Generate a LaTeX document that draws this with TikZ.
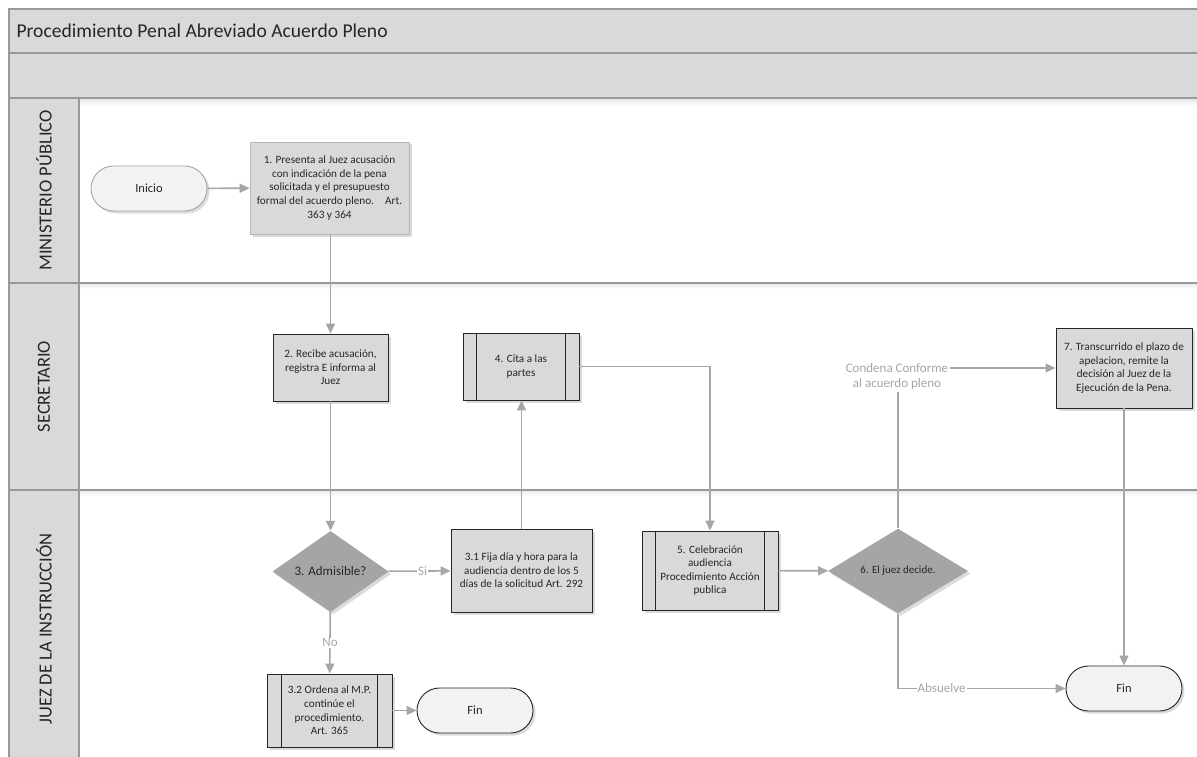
\documentclass[tikz,border=0pt]{standalone}
\usepackage{fontspec}
\setmainfont{Carlito}
\usetikzlibrary{arrows.meta,shapes.geometric,shadows}

\definecolor{band}{HTML}{D9D9D9}
\definecolor{rulegray}{HTML}{999999}
\definecolor{linkgray}{HTML}{A6A6A6}
\definecolor{ink}{HTML}{262626}
\definecolor{termfill}{HTML}{F2F2F2}
\definecolor{decfill}{HTML}{A5A5A5}

\tikzset{
  boxtext/.style={font=\fontsize{11.2}{13.6}\selectfont, text=ink, align=center},
  softshadow/.style={drop shadow={shadow xshift=2.5pt, shadow yshift=-2.5pt, opacity=0.14, fill=black}},
  procbox/.style={boxtext, draw=ink, line width=0.9pt, fill=band, inner sep=0pt, softshadow},
  lightbox/.style={boxtext, draw=linkgray!80, line width=0.7pt, fill=band, inner sep=0pt, softshadow},
  terminal/.style={font=\fontsize{12.5}{14}\selectfont, text=ink, fill=termfill, line width=0.9pt,
    rounded corners=22.5pt, minimum width=116pt, minimum height=45pt, inner sep=0pt, softshadow},
  decision/.style={diamond, fill=decfill, inner sep=0pt, text=ink, align=center, softshadow},
  flow/.style={draw=linkgray, line width=1.6pt, -{Triangle[length=10pt,width=9pt]}},
  flowlabel/.style={font=\fontsize{13}{15}\selectfont, text=linkgray, fill=white, inner sep=1pt, align=center},
  lanetitle/.style={rotate=90, font=\fontsize{18.5}{20}\selectfont, text=ink},
}

\begin{document}
\begin{tikzpicture}[x=1pt, y=-1pt]
\path[use as bounding box, fill=white] (0,0) rectangle (1197,757);

% pool header bands
\fill[band] (9,9) rectangle (1197,98);
% lane header column
\fill[band] (9,98) rectangle (79,757);
% faint shading under the header and lane separators
\shade[top color=black!9, bottom color=white] (79,99) rectangle (1197,106);
\shade[top color=black!7, bottom color=white] (79,284) rectangle (1197,289);
\shade[top color=black!7, bottom color=white] (79,491) rectangle (1197,496);

\draw[rulegray, line width=1.5pt] (1197,9) -- (9,9) -- (9,757);
\draw[rulegray, line width=1.5pt] (9,53) -- (1197,53);
\draw[rulegray, line width=1.5pt] (9,98) -- (1197,98);
\draw[rulegray, line width=1.2pt] (79,98) -- (79,757);
\draw[rulegray, line width=1.2pt] (9,283) -- (1197,283);
\draw[rulegray, line width=1.2pt] (9,490) -- (1197,490);

\node[anchor=west, font=\fontsize{19.6}{22}\selectfont, text=ink] (title) at (13,31) {Procedimiento Penal Abreviado Acuerdo Pleno};

\node[lanetitle] (laneMP) at (44,190.5) {MINISTERIO PÚBLICO};
\node[lanetitle] (laneSec) at (44,386.5) {SECRETARIO};
\node[lanetitle] (laneJuez) at (44,629) {JUEZ DE LA INSTRUCCIÓN};

% process steps
\node[terminal, draw=linkgray] (inicio) at (149,188.5) {Inicio};
\node[lightbox, minimum width=159pt, minimum height=92pt] (b1) at (329.5,188)
  {1. Presenta al Juez acusación\\con indicación de la pena\\solicitada y el presupuesto\\formal del acuerdo pleno.\quad Art.\\363 y 364};
\node[procbox, minimum width=115pt, minimum height=67pt] (b2) at (330.5,367.5)
  {2. Recibe acusación,\\registra E informa al\\Juez};
\node[procbox, minimum width=116pt, minimum height=67pt] (b4) at (521,366.5)
  {4. Cita a las\\partes};
\node[decision, minimum width=116pt, minimum height=68pt, font=\fontsize{13}{15}\selectfont] (d3) at (330.5,571.5)
  {3. Admisible?};
\node[procbox, minimum width=141pt, minimum height=83pt] (b31) at (521.5,570.5)
  {3.1 Fija día y hora para la\\audiencia dentro de los 5\\días de la solicitud Art. 292};
\node[procbox, minimum width=125pt, minimum height=73pt] (b32) at (329.5,710.5)
  {3.2 Ordena al M.P.\\continúe el\\procedimiento.\\Art. 365};
\node[terminal, draw=ink] (fin1) at (475,710.5) {Fin};
\node[procbox, minimum width=136pt, minimum height=79pt] (b5) at (710,570.5)
  {5. Celebración\\audiencia\\Procedimiento Acción\\publica};
\node[decision, minimum width=140pt, minimum height=80pt, font=\fontsize{11}{13}\selectfont] (d6) at (898,571)
  {6. El juez decide.};
\node[procbox, minimum width=136pt, minimum height=80pt] (b7) at (1124,368)
  {7. Transcurrido el plazo de\\apelacion, remite la\\decisión al Juez de la\\Ejecución de la Pena.};
\node[terminal, draw=ink] (fin2) at (1124,688.5) {Fin};

% subprocess side bars
\foreach \n/\d in {b4/14, b32/15, b5/14}{
  \draw[ink, line width=0.9pt] ([xshift=\d pt]\n.north west) -- ([xshift=\d pt]\n.south west);
  \draw[ink, line width=0.9pt] ([xshift=-\d pt]\n.north east) -- ([xshift=-\d pt]\n.south east);
}

% connectors
\draw[flow] (inicio) -- (b1);
\draw[flow] (b1.south -| b2.north) -- (b2.north);
\draw[flow] (b2) -- (d3);
\draw[flow] (d3) -- node[flowlabel, pos=0.55] (si) {Si} (b31);
\draw[flow] (d3) -- node[flowlabel, pos=0.5] (no) {No} (b32);
\draw[flow] (b32) -- (fin1);
\draw[flow] (b31.north) -- (b31.north |- b4.south);
\draw[flow] (b4.east) -| (b5.north);
\draw[flow] (b5) -- (d6);
\draw[flow] (d6.north) |- (b7.west);
\draw[flow] (d6.south) |- node[flowlabel, pos=0.63] (absuelve) {Absuelve} (fin2.west);
\draw[flow] (b7) -- (fin2);
\node[flowlabel, inner sep=2pt] (condena) at (897,377) {Condena Conforme\\al acuerdo pleno};
\end{tikzpicture}
\end{document}
